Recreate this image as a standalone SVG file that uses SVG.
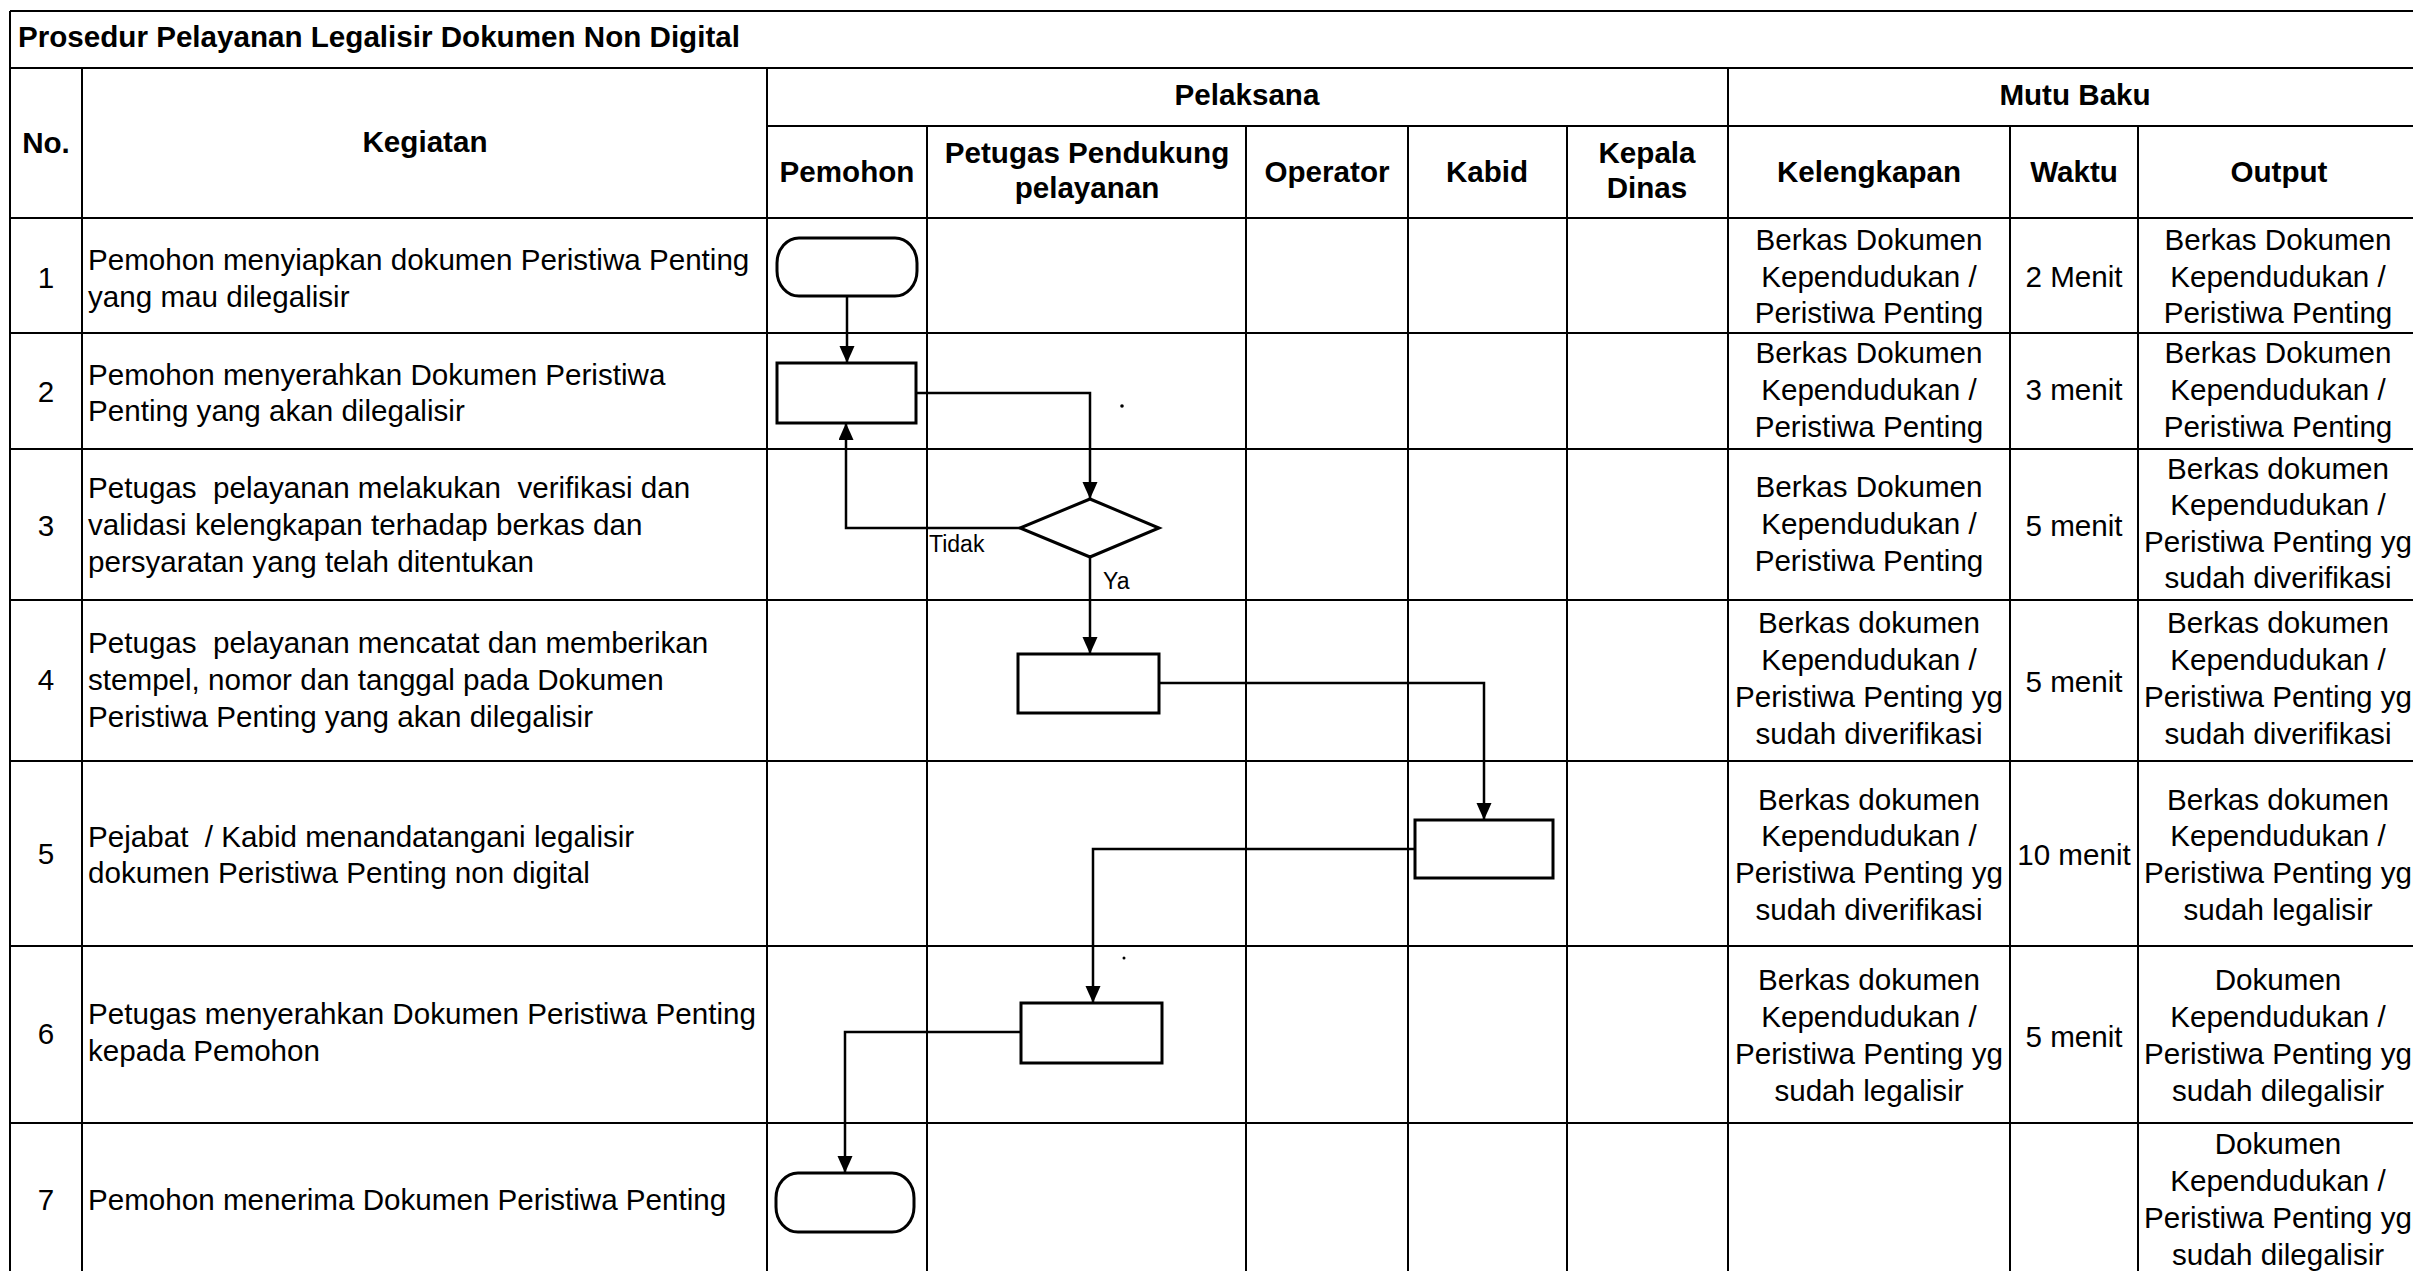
<svg xmlns="http://www.w3.org/2000/svg" width="2413" height="1271" viewBox="0 0 2413 1271">
<style>
.grid line{stroke:#000;stroke-width:2}
text{font-family:"Liberation Sans",Arial,sans-serif;font-size:29.6px;fill:#000}
.b{font-weight:bold}
.c{text-anchor:middle}
.pre{white-space:pre}
.lbl{font-size:23px}
.shape{fill:#fff;stroke:#000;stroke-width:3}
.conn{fill:none;stroke:#000;stroke-width:2.5}
</style>
<defs>
<marker id="arr" markerUnits="userSpaceOnUse" markerWidth="17" markerHeight="16" refX="17" refY="7.5" orient="auto">
<path d="M0,0 L17,7.5 L0,15 z" fill="#000"/>
</marker>
</defs>
<rect width="2413" height="1271" fill="#fff"/>
<g id="table" class="grid">
<line x1="10" y1="11" x2="2413" y2="11"/>
<line x1="10" y1="68" x2="2413" y2="68"/>
<line x1="767" y1="126" x2="2413" y2="126"/>
<line x1="10" y1="218" x2="2413" y2="218"/>
<line x1="10" y1="333" x2="2413" y2="333"/>
<line x1="10" y1="449" x2="2413" y2="449"/>
<line x1="10" y1="600" x2="2413" y2="600"/>
<line x1="10" y1="761" x2="2413" y2="761"/>
<line x1="10" y1="946" x2="2413" y2="946"/>
<line x1="10" y1="1123" x2="2413" y2="1123"/>
<line x1="10" y1="11" x2="10" y2="1271"/>
<line x1="82" y1="68" x2="82" y2="1271"/>
<line x1="767" y1="68" x2="767" y2="1271"/>
<line x1="927" y1="126" x2="927" y2="1271"/>
<line x1="1246" y1="126" x2="1246" y2="1271"/>
<line x1="1408" y1="126" x2="1408" y2="1271"/>
<line x1="1567" y1="126" x2="1567" y2="1271"/>
<line x1="1728" y1="68" x2="1728" y2="1271"/>
<line x1="2010" y1="126" x2="2010" y2="1271"/>
<line x1="2138" y1="126" x2="2138" y2="1271"/>
</g>
<g id="headers">
<text class="b" x="18" y="47">Prosedur Pelayanan Legalisir Dokumen Non Digital</text>
<text class="b c" x="46" y="153">No.</text>
<text class="b c" x="425" y="152">Kegiatan</text>
<text class="b c" x="1247" y="105">Pelaksana</text>
<text class="b c" x="2075" y="105">Mutu Baku</text>
<text class="b c" x="847" y="182">Pemohon</text>
<text class="b c" x="1087" y="163">Petugas Pendukung</text>
<text class="b c" x="1087" y="198">pelayanan</text>
<text class="b c" x="1327" y="182">Operator</text>
<text class="b c" x="1487" y="182">Kabid</text>
<text class="b c" x="1647" y="163">Kepala</text>
<text class="b c" x="1647" y="198">Dinas</text>
<text class="b c" x="1869" y="182">Kelengkapan</text>
<text class="b c" x="2074" y="182">Waktu</text>
<text class="b c" x="2279" y="182">Output</text>
</g>
<g id="numbers">
<text class="c" x="46" y="288">1</text>
<text class="c" x="46" y="402">2</text>
<text class="c" x="46" y="536">3</text>
<text class="c" x="46" y="690">4</text>
<text class="c" x="46" y="864">5</text>
<text class="c" x="46" y="1044">6</text>
<text class="c" x="46" y="1210">7</text>
</g>
<g id="kegiatan">
<text x="88" y="270">Pemohon menyiapkan dokumen Peristiwa Penting</text>
<text x="88" y="307">yang mau dilegalisir</text>
<text x="88" y="385">Pemohon menyerahkan Dokumen Peristiwa</text>
<text x="88" y="421">Penting yang akan dilegalisir</text>
<text class="pre" x="88" y="498">Petugas  pelayanan melakukan  verifikasi dan</text>
<text x="88" y="535">validasi kelengkapan terhadap berkas dan</text>
<text x="88" y="572">persyaratan yang telah ditentukan</text>
<text class="pre" x="88" y="653">Petugas  pelayanan mencatat dan memberikan</text>
<text x="88" y="690">stempel, nomor dan tanggal pada Dokumen</text>
<text x="88" y="727">Peristiwa Penting yang akan dilegalisir</text>
<text class="pre" x="88" y="847">Pejabat  / Kabid menandatangani legalisir</text>
<text x="88" y="883">dokumen Peristiwa Penting non digital</text>
<text x="88" y="1024">Petugas menyerahkan Dokumen Peristiwa Penting</text>
<text x="88" y="1061">kepada Pemohon</text>
<text x="88" y="1210">Pemohon menerima Dokumen Peristiwa Penting</text>
</g>
<g id="kelengkapan">
<text class="c" x="1869" y="250">Berkas Dokumen</text>
<text class="c" x="1869" y="287">Kependudukan /</text>
<text class="c" x="1869" y="323">Peristiwa Penting</text>
<text class="c" x="1869" y="363">Berkas Dokumen</text>
<text class="c" x="1869" y="400">Kependudukan /</text>
<text class="c" x="1869" y="437">Peristiwa Penting</text>
<text class="c" x="1869" y="497">Berkas Dokumen</text>
<text class="c" x="1869" y="534">Kependudukan /</text>
<text class="c" x="1869" y="571">Peristiwa Penting</text>
<text class="c" x="1869" y="633">Berkas dokumen</text>
<text class="c" x="1869" y="670">Kependudukan /</text>
<text class="c" x="1869" y="707">Peristiwa Penting yg</text>
<text class="c" x="1869" y="744">sudah diverifikasi</text>
<text class="c" x="1869" y="810">Berkas dokumen</text>
<text class="c" x="1869" y="846">Kependudukan /</text>
<text class="c" x="1869" y="883">Peristiwa Penting yg</text>
<text class="c" x="1869" y="920">sudah diverifikasi</text>
<text class="c" x="1869" y="990">Berkas dokumen</text>
<text class="c" x="1869" y="1027">Kependudukan /</text>
<text class="c" x="1869" y="1064">Peristiwa Penting yg</text>
<text class="c" x="1869" y="1101">sudah legalisir</text>
</g>
<g id="waktu">
<text class="c" x="2074" y="287">2 Menit</text>
<text class="c" x="2074" y="400">3 menit</text>
<text class="c" x="2074" y="536">5 menit</text>
<text class="c" x="2074" y="692">5 menit</text>
<text class="c" x="2074" y="865">10 menit</text>
<text class="c" x="2074" y="1047">5 menit</text>
</g>
<g id="output">
<text class="c" x="2278" y="250">Berkas Dokumen</text>
<text class="c" x="2278" y="287">Kependudukan /</text>
<text class="c" x="2278" y="323">Peristiwa Penting</text>
<text class="c" x="2278" y="363">Berkas Dokumen</text>
<text class="c" x="2278" y="400">Kependudukan /</text>
<text class="c" x="2278" y="437">Peristiwa Penting</text>
<text class="c" x="2278" y="479">Berkas dokumen</text>
<text class="c" x="2278" y="515">Kependudukan /</text>
<text class="c" x="2278" y="552">Peristiwa Penting yg</text>
<text class="c" x="2278" y="588">sudah diverifikasi</text>
<text class="c" x="2278" y="633">Berkas dokumen</text>
<text class="c" x="2278" y="670">Kependudukan /</text>
<text class="c" x="2278" y="707">Peristiwa Penting yg</text>
<text class="c" x="2278" y="744">sudah diverifikasi</text>
<text class="c" x="2278" y="810">Berkas dokumen</text>
<text class="c" x="2278" y="846">Kependudukan /</text>
<text class="c" x="2278" y="883">Peristiwa Penting yg</text>
<text class="c" x="2278" y="920">sudah legalisir</text>
<text class="c" x="2278" y="990">Dokumen</text>
<text class="c" x="2278" y="1027">Kependudukan /</text>
<text class="c" x="2278" y="1064">Peristiwa Penting yg</text>
<text class="c" x="2278" y="1101">sudah dilegalisir</text>
<text class="c" x="2278" y="1154">Dokumen</text>
<text class="c" x="2278" y="1191">Kependudukan /</text>
<text class="c" x="2278" y="1228">Peristiwa Penting yg</text>
<text class="c" x="2278" y="1265">sudah dilegalisir</text>
</g>
<g id="connectors">
<path class="conn" d="M847,296 V363" marker-end="url(#arr)"/>
<path class="conn" d="M916,393 H1090 V499" marker-end="url(#arr)"/>
<path class="conn" d="M1020,528 H846 V423" marker-end="url(#arr)"/>
<path class="conn" d="M1090,557 V654" marker-end="url(#arr)"/>
<path class="conn" d="M1159,683 H1484 V820" marker-end="url(#arr)"/>
<path class="conn" d="M1415,849 H1093 V1003" marker-end="url(#arr)"/>
<path class="conn" d="M1021,1032 H845 V1173" marker-end="url(#arr)"/>
<text class="lbl" x="929" y="552">Tidak</text>
<text class="lbl" x="1103" y="589">Ya</text>
</g>
<g id="n1"><rect class="shape" x="777" y="238" width="140" height="58" rx="22" ry="25"/></g>
<g id="n2"><rect class="shape" x="777" y="363" width="139" height="60"/></g>
<g id="n3"><path class="shape" d="M1090,499 L1159,528 L1090,557 L1020,528 Z"/></g>
<g id="n4"><rect class="shape" x="1018" y="654" width="141" height="59"/></g>
<g id="n5"><rect class="shape" x="1415" y="820" width="138" height="58"/></g>
<g id="n6"><rect class="shape" x="1021" y="1003" width="141" height="60"/></g>
<g id="n7"><rect class="shape" x="776" y="1173" width="138" height="59" rx="22" ry="25"/></g>
<g id="marks">
<circle cx="1122" cy="406" r="1.8" fill="#000"/>
<circle cx="1124" cy="958" r="1.5" fill="#000"/>
</g>
</svg>
